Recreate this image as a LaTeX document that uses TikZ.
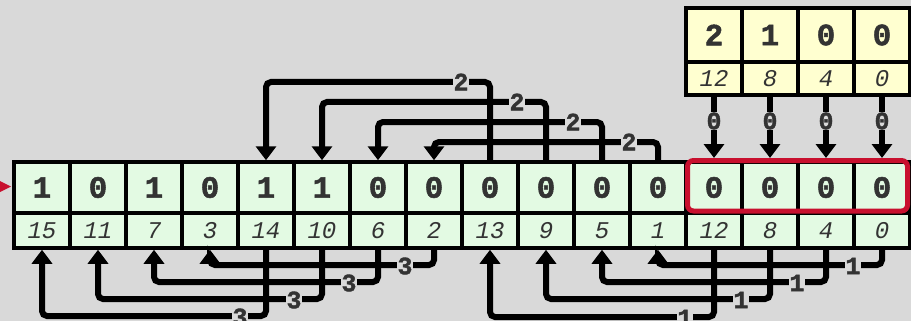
\documentclass[tikz,border=0pt]{standalone}
\usepackage{fontspec}
\setmonofont{Liberation Mono}
\newfontfamily\digitfont[FakeBold=1.6]{Liberation Mono Bold}
\usetikzlibrary{arrows.meta}
\definecolor{bg}{RGB}{217,217,217}
\definecolor{cellgreen}{RGB}{227,250,227}
\definecolor{cellyellow}{RGB}{255,255,208}
\definecolor{ink}{RGB}{51,51,51}
\definecolor{hired}{RGB}{200,16,46}
\begin{document}
\begin{tikzpicture}[x=1pt,y=-1pt,
  cell/.style={draw=black, line width=3.5pt, minimum width=56pt, inner sep=0pt},
  valcell/.style={cell, fill=cellgreen, minimum height=51pt,
    font=\digitfont\fontsize{31}{31}\selectfont, text=ink},
  idxcell/.style={cell, fill=cellgreen, minimum height=35pt,
    font=\ttfamily\itshape\fontsize{24}{24}\selectfont, text=ink},
  yvalcell/.style={valcell, fill=cellyellow, minimum height=54pt},
  yidxcell/.style={idxcell, fill=cellyellow, minimum height=33pt},
  conn/.style={line width=6pt, rounded corners=5pt, -{Triangle[width=20pt,length=14pt]}},
  lbl/.style={font=\digitfont\fontsize{25}{25}\selectfont, text=ink,
    fill=bg, inner sep=0.4pt}]
% canvas
\fill[bg] (0,0) rectangle (911,321);
\useasboundingbox (0,0) rectangle (911,321);

% entry marker on the left
\fill[hired] (0,181) -- (11,186.5) -- (0,192) -- cycle;

% main array: values and bit positions
\foreach \v/\p [count=\i from 0] in {1/15,0/11,1/7,0/3,1/14,1/10,0/6,0/2,0/13,0/9,0/5,0/1,0/12,0/8,0/4,0/0}{
  \node[valcell] (v\i) at ({42+56*\i},187.5) {\v};
  \node[idxcell] (i\i) at ({42+56*\i},230.5) {\p};
}

% small table of digits at the upper right
\foreach \v/\p [count=\i from 0] in {2/12,1/8,0/4,0/0}{
  \node[yvalcell] (c\i) at ({714+56*\i},35) {\v};
  \node[yidxcell] (d\i) at ({714+56*\i},78.5) {\p};
}

% highlighted group of the last four cells
\node[draw=hired, line width=5pt, rounded corners=6pt, minimum width=220pt,
  minimum height=50.5pt, inner sep=0pt] (hl) at (797.5,185.75) {};

% digits fed down into the highlighted group
\foreach \i in {0,1,2,3}{
  \draw[conn] (d\i.south) -- (d\i.south |- hl.north);
  \node[lbl] (z\i) at ({714+56*\i},121) {0};
}

% shifts by two (upper connectors)
\draw[conn] (v8.north)  -- (v8.north |- 0,82)   -| (v4.north);
\draw[conn] (v9.north)  -- (v9.north |- 0,102)  -| (v5.north);
\draw[conn] (v10.north) -- (v10.north |- 0,122) -| (v6.north);
\draw[conn] (v11.north) -- (v11.north |- 0,142) -| (v7.north);
\node[lbl] (s2a) at (461,82) {2};
\node[lbl] (s2b) at (517,102) {2};
\node[lbl] (s2c) at (573,122) {2};
\node[lbl] (s2d) at (629,142) {2};

% shifts by three (lower left connectors)
\draw[conn] (i7.south) -- (i7.south |- 0,265) -| (i3.south);
\draw[conn] (i6.south) -- (i6.south |- 0,282) -| (i2.south);
\draw[conn] (i5.south) -- (i5.south |- 0,299) -| (i1.south);
\draw[conn] (i4.south) -- (i4.south |- 0,316) -| (i0.south);
\node[lbl] (s3a) at (405,266) {3};
\node[lbl] (s3b) at (349,283) {3};
\node[lbl] (s3c) at (294,300) {3};
\node[lbl] (s3d) at (240,317) {3};

% shifts by one (lower right connectors)
\draw[conn] (i15.south) -- (i15.south |- 0,265) -| (i11.south);
\draw[conn] (i14.south) -- (i14.south |- 0,282) -| (i10.south);
\draw[conn] (i13.south) -- (i13.south |- 0,299) -| (i9.south);
\draw[conn] (i12.south) -- (i12.south |- 0,317) -| (i8.south);
\node[lbl] (s1a) at (853,266) {1};
\node[lbl] (s1b) at (797,283) {1};
\node[lbl] (s1c) at (741,300) {1};
\node[lbl] (s1d) at (685,318) {1};
\end{tikzpicture}
\end{document}
